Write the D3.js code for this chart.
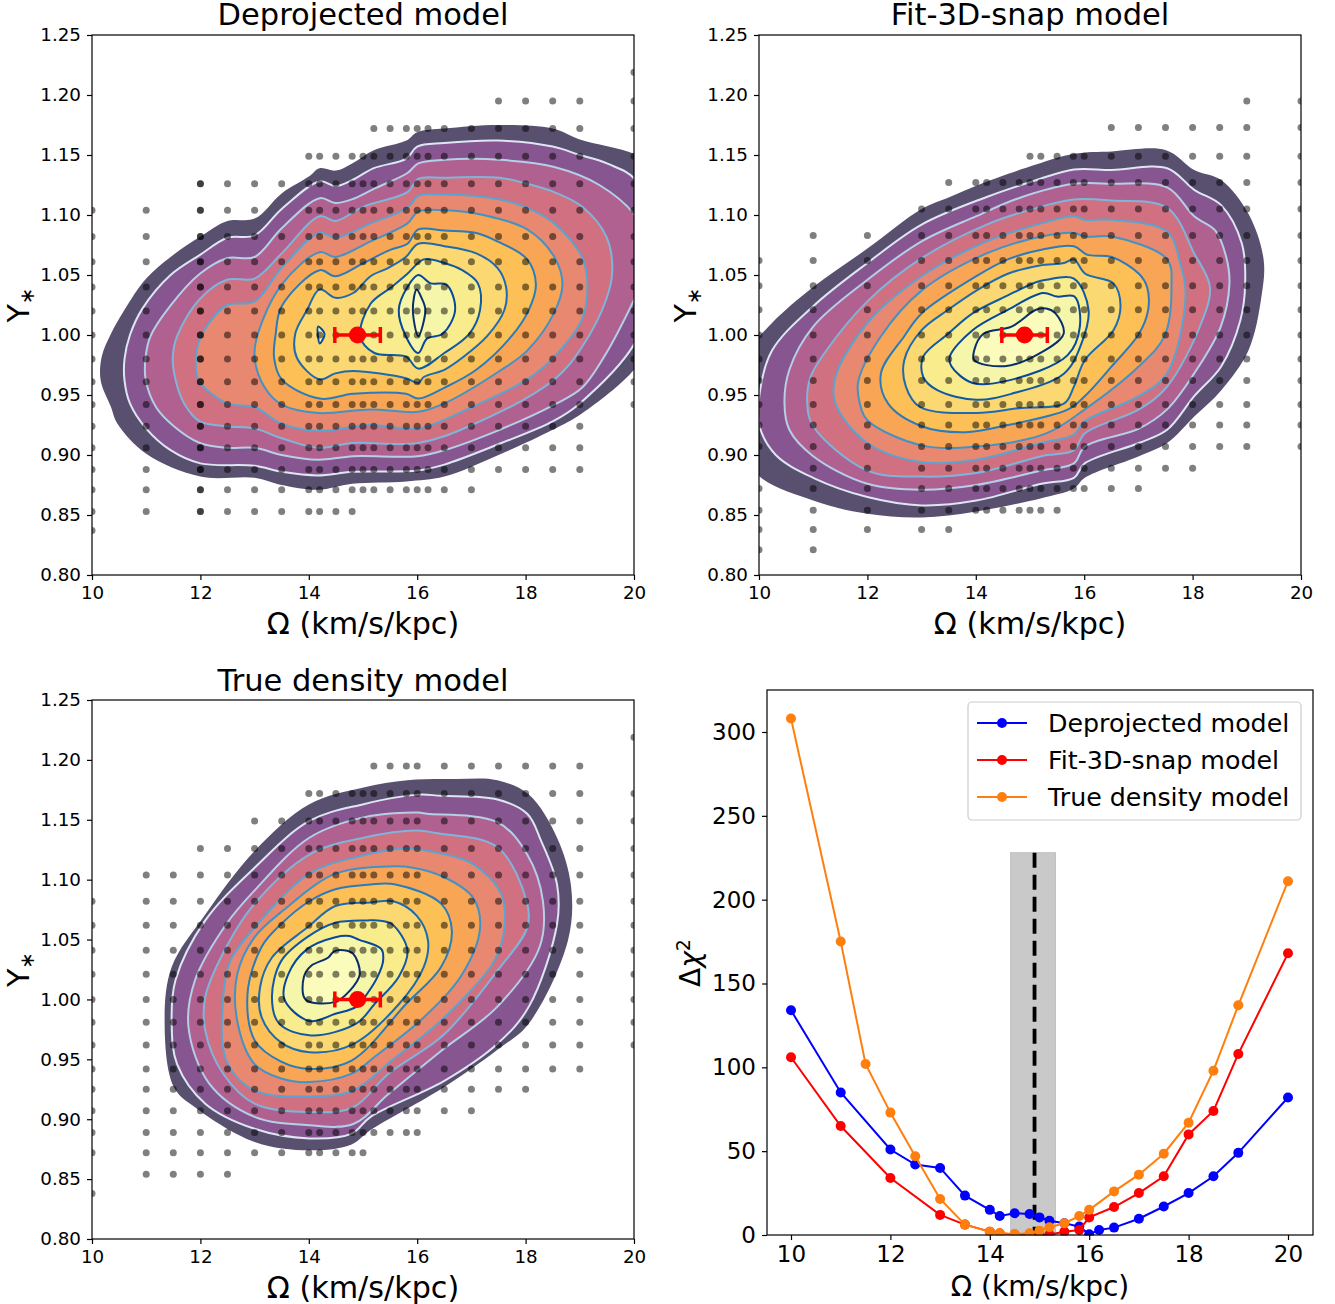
<!DOCTYPE html>
<html><head><meta charset="utf-8">
<style>html,body{margin:0;padding:0;background:#fff}svg{display:block}text{font-family:"DejaVu Sans",sans-serif;fill:#000}</style>
<script src="https://cdnjs.cloudflare.com/ajax/libs/d3/7.8.5/d3.min.js"></script>
</head><body><div id="c"></div>
<script>
const titles=["Deprojected model","Fit-3D-snap model","True density model"];
const xLabel="Ω (km/s/kpc)";
const yTicks=[0.80,0.85,0.90,0.95,1.00,1.05,1.10,1.15,1.20,1.25];
const xTicks=[10,12,14,16,18,20];
const bestOmega=14.9,bestErr=0.42,bestY=1.0;
const bandFills=["#58506e","#87558f","#b06190","#d07080","#e88870","#f8a656","#fcc057","#fbd872","#f8ec8c","#f6f6aa","#fbfbbc"];
const lineColors=[null,"#dde6f3","#b5cfe6","#7fb5da","#5ba3d0","#4292c6","#2b7bba","#1c6bb0","#0f5aa3","#08479a","#08306b"];

const gridDP=[10,11,12,12,12.5,13,13.5,14,14.2,14.5,14.8,15,15.2,15.5,15.8,16,16.2,16.5,17,17.5,18,18.5,19,20];
const gridSF=[10,11,12,13,13.5,14,14.2,14.5,14.8,15,15.2,15.5,15.8,16,16.5,17,17.5,18,18.5,19,20];
const gridTD=[10,11,11.5,12,12.5,13,13.5,14,14.2,14.5,14.8,15,15.2,15.5,15.8,16,16.5,17,17.5,18,18.5,19,20];
// rows: [Y, first omega, last omega, omegas absent]
const rowsDP=[[1.219,20,20],[1.195,17.5,20],[1.172,15.2,20],[1.149,14,20],[1.126,12,20],[1.104,10,20,[13.5]],[1.082,10,20],[1.061,10,20],[1.04,10,20],[1.02,10,20],[1.0,10,20],[0.98,10,20],[0.961,10,20],[0.942,10,20],[0.924,10,19],[0.906,10,19],[0.888,10,19],[0.871,10,17],[0.853,10,14.8],[0.837,10,10]];
const rowsSF=[[1.195,19,20],[1.173,16.5,20],[1.149,15,20],[1.127,13.5,20],[1.105,13,20],[1.083,11,20],[1.062,10,20],[1.041,10,20],[1.021,10,20],[1.0,10,20],[0.98,10,20],[0.962,10,20],[0.942,10,20],[0.925,10,20],[0.907,10,20],[0.889,11,18],[0.872,10,17],[0.854,10,15.5],[0.838,10,13.5],[0.821,10,11]];
const rowsTD=[[1.219,20,20],[1.195,15.2,19],[1.172,14,20],[1.149,13,20],[1.126,12,20],[1.104,11,20],[1.082,10,20],[1.062,10,20],[1.041,10,20],[1.021,10,20],[1.0,10,20],[0.981,10,20],[0.962,10,20],[0.942,10,19],[0.925,10,18],[0.907,10,17],[0.889,10,16],[0.872,10,15],[0.854,11,12.5],[0.838,10,10]];

// Contours as [Omega, Y] vertices, outermost first.
const dp0=[[17.5,1.175],[16.5,1.172],[16,1.169],[15.8,1.162],[15.2,1.154],[14.8,1.143],[14.5,1.137],[14.2,1.139],[14,1.132],[13.5,1.118],[13,1.097],[12.5,1.095],[12,1.082],[11.45,1.065],[11,1.047],[10.6,1.021],[10.35,1.001],[10.18,0.982],[10.16,0.962],[10.35,0.94],[10.47,0.926],[11,0.901],[12,0.882],[13,0.881],[13.5,0.875],[14.17,0.871],[14.8,0.876],[15.8,0.878],[16.5,0.882],[17.5,0.9],[18.5,0.921],[19.05,0.935],[20.05,0.974],[20.3,1.0],[20.3,1.14],[20.05,1.15],[19,1.163],[18.5,1.172]];
const dp1=[[17.5,1.162],[16.5,1.16],[16,1.157],[15.8,1.147],[15.2,1.139],[14.8,1.129],[14.5,1.124],[14.2,1.128],[13.5,1.105],[13,1.083],[12.5,1.081],[12,1.067],[11.45,1.05],[10.93,1.022],[10.7,1],[10.6,0.98],[10.6,0.962],[10.7,0.943],[11,0.922],[11.45,0.904],[12,0.893],[13,0.891],[13.5,0.886],[14.17,0.883],[14.8,0.886],[16,0.887],[16.5,0.892],[17.5,0.909],[18.5,0.928],[19,0.943],[20.05,0.996],[20.4,1.06],[20.05,1.128],[19.5,1.143],[19,1.15],[18.5,1.157]];
const dp2=[[16.02,1.143],[16.5,1.146],[17.52,1.146],[18.53,1.14],[19.36,1.125],[20.03,1.099],[20.34,1.063],[20.03,1.032],[19.49,0.985],[19.04,0.956],[18.53,0.942],[17.52,0.921],[16.5,0.904],[16.01,0.899],[14.82,0.899],[14.17,0.896],[13.5,0.9],[13,0.906],[12.49,0.906],[11.99,0.91],[11.51,0.924],[11.18,0.94],[10.99,0.963],[10.99,0.982],[11.08,0.999],[11.44,1.024],[11.99,1.051],[12.49,1.064],[13,1.065],[13.5,1.089],[14.2,1.114],[14.49,1.11],[14.79,1.113],[15.21,1.122],[15.82,1.135]];
const dp3=[[16.02,1.13],[16.5,1.131],[17.52,1.131],[18.03,1.126],[18.53,1.119],[19.04,1.107],[19.49,1.082],[19.6,1.054],[19.49,1.03],[19.04,0.99],[18.53,0.963],[17.01,0.925],[16.02,0.91],[14.82,0.91],[14.17,0.906],[13.5,0.914],[13,0.922],[12.49,0.924],[11.99,0.928],[11.7,0.943],[11.54,0.963],[11.49,0.981],[11.57,0.999],[11.99,1.03],[12.49,1.046],[13,1.047],[13.5,1.068],[14.2,1.099],[14.49,1.095],[15.01,1.107],[15.82,1.119]];
const dp4=[[16.02,1.116],[16.5,1.117],[17.52,1.113],[18.03,1.106],[18.53,1.093],[19.04,1.065],[19.14,1.042],[19.04,1.013],[18.53,0.982],[18.03,0.963],[17.01,0.94],[16.02,0.922],[15.14,0.925],[14.17,0.92],[13.5,0.926],[13,0.94],[12.49,0.943],[11.96,0.963],[11.92,0.981],[11.96,0.993],[12.16,1.01],[12.49,1.025],[13,1.028],[13.5,1.056],[14.2,1.085],[14.49,1.081],[15.14,1.093],[15.82,1.106]];
const dp5=[[16.02,1.103],[16.5,1.104],[17.22,1.1],[18.03,1.088],[18.53,1.065],[18.68,1.042],[18.52,1.018],[18.03,0.987],[17.52,0.97],[16.5,0.943],[16.02,0.936],[15.14,0.938],[14.17,0.935],[13.5,0.942],[13.19,0.956],[13,0.981],[13.06,1.001],[13.5,1.042],[14.2,1.069],[14.49,1.065],[15.14,1.078],[15.82,1.093]];
const dp6=[[16.02,1.088],[16.5,1.087],[17.09,1.085],[17.48,1.078],[18.03,1.063],[18.19,1.042],[18.06,1.021],[17.74,0.999],[17.09,0.971],[16.5,0.956],[16.02,0.947],[15.79,0.951],[14.82,0.951],[14.2,0.947],[13.5,0.963],[13.36,0.981],[13.39,1.001],[13.5,1.024],[14.2,1.054],[14.49,1.049],[15.01,1.06],[15.5,1.071],[15.82,1.076]];
const dp7=[[16.02,1.076],[16.5,1.074],[17.09,1.068],[17.48,1.056],[17.64,1.04],[17.61,1.021],[17.29,0.999],[16.83,0.981],[16.5,0.971],[16.12,0.965],[16.02,0.96],[15.79,0.964],[14.82,0.97],[14.49,0.968],[14.2,0.963],[13.78,0.981],[13.75,1.001],[13.97,1.021],[14.2,1.038],[14.49,1.031],[14.82,1.035],[15.14,1.049],[15.47,1.056],[15.79,1.065]];
const dp8=[[16.12,1.063],[16.5,1.06],[16.83,1.054],[17.12,1.043],[17.16,1.021],[16.96,1.001],[16.5,0.985],[16.02,0.972],[15.79,0.982],[15.21,0.985],[14.95,0.999],[15.14,1.026],[15.53,1.04],[15.82,1.051]];
const dp9=[[16.02,1.05],[16.25,1.043],[16.54,1.042],[16.7,1.021],[16.47,1.001],[16.18,0.997],[16.02,0.985],[15.79,0.999],[15.66,1.021],[15.82,1.04]];
const dp10=[[15.99,1.038],[15.92,1.021],[16.02,0.999],[16.15,1.021],[16.08,1.031]];
const dpSmall=[[14.17,1.007],[14.17,0.999],[14.2,0.993],[14.29,1.001]];

const sf0=[[17.51,1.154],[16.51,1.153],[15.81,1.151],[15.11,1.142],[14.1,1.126],[13.52,1.115],[13,1.105],[12,1.072],[11,1.04],[10.24,1.01],[9.85,0.988],[9.53,0.938],[9.92,0.886],[11,0.862],[12,0.851],[13,0.848],[14.01,0.853],[15.21,0.864],[15.81,0.872],[16.01,0.881],[17.01,0.899],[17.53,0.91],[18.03,0.932],[18.53,0.954],[19.03,0.987],[19.27,1.032],[19.31,1.063],[19.03,1.101],[18.53,1.129],[18.03,1.1375]];
const sf1=[[17.53,1.139],[16.51,1.1375],[15.81,1.138],[15.11,1.129],[14.2,1.115],[13,1.092],[12,1.06],[11,1.024],[10.24,0.987],[10.01,0.951],[10.01,0.924],[10.31,0.9],[11,0.881],[12,0.865],[13,0.858],[14.01,0.862],[15.21,0.876],[15.81,0.881],[16.01,0.893],[17.01,0.91],[17.53,0.921],[18.03,0.949],[18.53,0.974],[18.88,1.012],[18.97,1.043],[18.91,1.076],[18.53,1.108],[18.03,1.121]];
const sf2=[[17.53,1.123],[16.51,1.126],[15.81,1.126],[14.79,1.114],[14.01,1.099],[13,1.078],[12,1.046],[11,1.007],[10.56,0.971],[10.47,0.943],[10.56,0.921],[11,0.899],[12,0.876],[13,0.871],[14.01,0.875],[15.21,0.887],[15.81,0.893],[16.01,0.907],[17.01,0.922],[17.53,0.938],[18.03,0.968],[18.52,1.007],[18.68,1.043],[18.62,1.065],[18.42,1.087],[18.03,1.099]];
const sf3=[[17.53,1.106],[16.51,1.112],[15.81,1.113],[15.21,1.107],[14.2,1.092],[13,1.064],[12,1.028],[11.21,0.985],[10.95,0.965],[10.89,0.943],[11,0.924],[12,0.887],[13,0.882],[14.01,0.885],[15.21,0.899],[15.81,0.904],[16.01,0.918],[17.01,0.938],[17.53,0.957],[18.16,1.01],[18.32,1.04],[18.03,1.068]];
const sf4=[[17.53,1.086],[16.51,1.096],[16.01,1.096],[15.81,1.099],[15.21,1.093],[14.2,1.078],[13,1.049],[12,1.01],[11.41,0.965],[11.41,0.943],[12,0.91],[13,0.894],[14.01,0.896],[15.21,0.91],[15.81,0.917],[16.01,0.928],[17.01,0.949],[17.53,0.968],[17.87,1.032],[17.77,1.06]];
const sf5=[[17.53,1.063],[16.51,1.082],[16.02,1.082],[15.81,1.085],[15.21,1.082],[14.2,1.068],[13,1.037],[12.25,0.999],[11.83,0.961],[11.86,0.943],[12,0.929],[13,0.908],[14.01,0.907],[15.3,0.918],[16.01,0.938],[17.01,0.974],[17.48,0.999],[17.61,1.04]];
const sf6=[[16.05,1.067],[16.51,1.065],[17.01,1.051],[17.16,1.04],[17.18,1.021],[17.01,1.001],[16.51,0.974],[16.01,0.949],[15.7,0.938],[14.59,0.925],[13.81,0.919],[13,0.924],[12.38,0.943],[12.25,0.968],[12.68,0.999],[13,1.018],[14.01,1.049],[14.59,1.063],[15.21,1.071],[15.81,1.074]];
const sf7=[[15.81,1.063],[16.02,1.051],[16.54,1.043],[16.67,1.024],[16.54,1.004],[16.01,0.979],[15.81,0.957],[15.63,0.943],[14.79,0.939],[14.01,0.935],[12.97,0.94],[12.71,0.957],[12.68,0.979],[13,1.004],[13.49,1.021],[14.01,1.037],[14.59,1.051],[15.18,1.058],[15.63,1.06]];
const sf8=[[15.3,1.046],[15.81,1.047],[16.08,1.021],[15.95,0.993],[15.63,0.968],[14.66,0.951],[14.01,0.946],[13.29,0.954],[13.03,0.965],[13.03,0.982],[13.49,1.001],[13.94,1.018],[14.59,1.033],[15.11,1.044]];
const sf9=[[15.5,1.032],[15.82,1.032],[15.92,1.007],[15.69,0.983],[14.59,0.962],[13.94,0.96],[13.55,0.974],[13.52,0.982],[13.94,1.004],[14.59,1.021],[15.24,1.035]];
const sf10=[[15.3,1.022],[15.47,1.018],[15.62,1.001],[15.11,0.983],[14.53,0.974],[13.97,0.979],[13.97,0.987],[14.14,1.001],[14.66,1.007],[15.11,1.021]];

const td0=[[16.7,1.184],[17.48,1.183],[18.06,1.171],[18.58,1.135],[18.84,1.094],[18.78,1.049],[18.06,0.98],[17.48,0.958],[16.5,0.927],[15.14,0.891],[14.79,0.879],[14.01,0.874],[13,0.881],[11.9,0.91],[11.51,0.927],[11.34,0.98],[11.47,1.027],[12.09,1.071],[13,1.124],[14.01,1.163],[15.01,1.177],[15.82,1.183]];
const td1=[[16.44,1.17],[17.48,1.167],[18.03,1.155],[18.29,1.132],[18.58,1.096],[18.58,1.063],[18.06,0.994],[17.48,0.963],[16.5,0.932],[15.14,0.902],[14.79,0.888],[14.01,0.884],[13,0.892],[12.09,0.913],[11.57,0.946],[11.47,0.98],[11.54,1.016],[12.09,1.066],[13,1.11],[14.01,1.149],[15.01,1.163],[16.02,1.171]];
const td2=[[16.18,1.155],[17.48,1.148],[18.03,1.121],[18.32,1.082],[18.26,1.044],[17.48,0.994],[16.44,0.957],[15.47,0.921],[14.82,0.896],[14.01,0.895],[13,0.902],[12.16,0.93],[11.78,0.977],[11.9,1.016],[12.48,1.063],[13,1.091],[14.01,1.135],[15.01,1.152],[16.02,1.156]];
const td3=[[16.34,1.139],[17.48,1.127],[18.03,1.08],[18.03,1.06],[17.48,1.024],[16.5,0.971],[15.47,0.938],[14.82,0.91],[14.01,0.906],[13,0.913],[12.42,0.938],[12.09,0.974],[12.09,1.002],[12.48,1.044],[13,1.08],[14.01,1.121],[15.01,1.135],[15.99,1.141]];
const td4=[[16.21,1.124],[17.03,1.113],[17.55,1.088],[17.61,1.06],[17.42,1.032],[16.5,0.985],[15.53,0.949],[14.82,0.924],[14.01,0.919],[13,0.924],[12.48,0.949],[12.42,1.002],[12.55,1.032],[13,1.06],[14.01,1.105],[14.88,1.119],[15.79,1.126]];
const td5=[[15.92,1.11],[16.5,1.102],[17.03,1.085],[17.16,1.06],[16.83,1.021],[16.12,0.985],[15.21,0.952],[14.79,0.938],[14.01,0.931],[13.49,0.934],[13,0.946],[12.68,0.982],[12.68,1.021],[13,1.052],[13.52,1.074],[14.49,1.105],[15.47,1.111]];
const td6=[[15.6,1.096],[16.44,1.08],[16.64,1.057],[16.44,1.027],[15.79,0.996],[14.79,0.949],[14.01,0.942],[13.49,0.948],[13,0.966],[12.87,1.005],[13.13,1.044],[13.49,1.063],[14.01,1.082],[14.49,1.092],[15.14,1.096]];
const td7=[[15.56,1.082],[15.99,1.07],[16.2,1.049],[16.12,1.027],[15.66,0.996],[14.79,0.962],[14.01,0.956],[13.49,0.964],[13.13,0.985],[13.1,1.01],[13.32,1.035],[13.97,1.06],[14.49,1.078],[15.14,1.081]];
const td8=[[15.53,1.063],[15.82,1.041],[15.66,1.019],[15.21,0.996],[14.88,0.98],[14.04,0.97],[13.45,0.98],[13.32,1.002],[13.49,1.032],[13.97,1.052],[14.49,1.064],[15.08,1.066],[15.27,1.066]];
const td9=[[14.92,1.05],[15.34,1.042],[15.37,1.032],[15.27,1.019],[15.08,1.005],[14.88,0.994],[14.49,0.988],[14.01,0.982],[13.55,1],[13.62,1.021],[13.97,1.042],[14.49,1.052],[14.75,1.053]];
const td10=[[14.82,1.038],[14.94,1.021],[14.75,1.007],[14.49,0.998],[13.94,1],[13.91,1.019],[14.04,1.028],[14.36,1.035],[14.46,1.04],[14.65,1.041]];

// Delta chi^2 panel
const omegaDP=[10,11,12,12.5,13,13.5,14,14.2,14.5,14.8,15,15.2,15.5,15.8,16,16.2,16.5,17,17.5,18,18.5,19,20];
const chiDP=[134,85,51,42,40,23.5,15,11.3,13,12.5,10.5,8.5,7,5,0.5,3,4.4,9.7,17,25,35,49,82];
const omegaSF=[10,11,12,13,13.5,14,14.2,14.5,14.8,15,15.2,15.5,15.8,16,16.5,17,17.5,18,18.5,19,20];
const chiSF=[106,65,34,12,6.2,2,1,0.3,0,0,0.3,2,3,10.5,16.7,25,35,60,74,108,168];
const omegaTD=[10,11,11.5,12,12.5,13,13.5,14,14.2,14.5,14.8,15,15.2,15.5,15.8,16,16.5,17,17.5,18,18.5,19,20];
const chiTD=[308,175,102,73,47,21.5,6.2,2,1,0.6,1,2.6,4.6,7,11.3,15,26,36,48.5,67,98,137,211];
const chiTicks=[0,50,100,150,200,250,300];
const spanOmega=[14.42,15.32],spanTop=228;
const seriesColors=["#0000ff","#ff0000","#ff7f0e"];

const W=1335,H=1304;
const svg=d3.select("#c").append("svg").attr("width",W).attr("height",H);
const line=d3.line();

function panel(i,box,grid,rows,contours,small,titleY,labelY){
  const x=d3.scaleLinear().domain([10,20]).range([box.l,box.r]);
  const y=d3.scaleLinear().domain([0.8,1.25]).range([box.b,box.t]);
  const id="clip"+i;
  svg.append("clipPath").attr("id",id).append("rect").attr("x",box.l).attr("y",box.t).attr("width",box.r-box.l).attr("height",box.b-box.t);
  const g=svg.append("g").attr("clip-path",`url(#${id})`);
  const path=c=>line.curve(d3.curveCatmullRomClosed.alpha(0.5)).x(d=>x(d[0])).y(d=>y(d[1]))(c);
  g.selectAll("path.f").data(contours).enter().append("path").attr("class","f").attr("d",path).attr("fill",(d,k)=>bandFills[k]);
  if(small) g.append("path").attr("d",path(small)).attr("fill",bandFills[9]);
  g.selectAll("path.l").data(contours.slice(1)).enter().append("path").attr("class","l").attr("d",path).attr("fill","none").attr("stroke",(d,k)=>lineColors[k+1]).attr("stroke-width",2).attr("stroke-linejoin","round");
  if(small) g.append("path").attr("d",path(small)).attr("fill","none").attr("stroke",lineColors[9]).attr("stroke-width",2);
  const pts=[];
  rows.forEach(r=>grid.forEach(o=>{ if(o>=r[1]&&o<=r[2]&&!(r[3]&&r[3].includes(o))) pts.push([o,r[0]]); }));
  g.selectAll("circle").data(pts).enter().append("circle").attr("cx",d=>x(d[0])).attr("cy",d=>y(d[1])).attr("r",3.5).attr("fill","#000").attr("fill-opacity",0.5);
  // best-fit marker
  const m=svg.append("g").attr("stroke","#ff0000").attr("stroke-width",3.5);
  m.append("line").attr("x1",x(bestOmega-bestErr)).attr("x2",x(bestOmega+bestErr)).attr("y1",y(bestY)).attr("y2",y(bestY));
  [bestOmega-bestErr,bestOmega+bestErr].forEach(v=>m.append("line").attr("x1",x(v)).attr("x2",x(v)).attr("y1",y(bestY)-8).attr("y2",y(bestY)+8));
  svg.append("circle").attr("cx",x(bestOmega)).attr("cy",y(bestY)).attr("r",8.5).attr("fill","#ff0000");
  // axes
  styleAxis(svg.append("g").attr("transform",`translate(0,${box.b})`).call(d3.axisBottom(x).tickValues(xTicks).tickFormat(d3.format("d")).tickSize(5).tickPadding(6)),18.3);
  styleAxis(svg.append("g").attr("transform",`translate(${box.l},0)`).call(d3.axisLeft(y).tickValues(yTicks).tickFormat(d3.format(".2f")).tickSize(5).tickPadding(6)),18.3);
  frame(box);
  svg.append("text").attr("x",(box.l+box.r)/2).attr("y",titleY).attr("text-anchor","middle").style("font-size","30.5px").text(titles[i]);
  svg.append("text").attr("x",(box.l+box.r)/2).attr("y",labelY).attr("text-anchor","middle").style("font-size","30.2px").text(xLabel);
  const yl=svg.append("text").attr("transform",`translate(${box.l-63},${(box.t+box.b)/2}) rotate(-90)`).attr("text-anchor","middle").style("font-size","30px");
  yl.append("tspan").text("Υ");
  yl.append("tspan").attr("dy",5).style("font-size","20px").text("∗");
}
function styleAxis(a,fs){
  a.select(".domain").remove();
  a.selectAll(".tick line").attr("stroke","#000").attr("stroke-width",1.2);
  a.selectAll(".tick text").style("font-size",fs+"px").attr("fill","#000");
}
function frame(b){
  svg.append("rect").attr("x",b.l).attr("y",b.t).attr("width",b.r-b.l).attr("height",b.b-b.t).attr("fill","none").attr("stroke","#000").attr("stroke-width",1.2);
}

panel(0,{l:92,r:634,t:35,b:575},gridDP,rowsDP,[dp0,dp1,dp2,dp3,dp4,dp5,dp6,dp7,dp8,dp9,dp10],dpSmall,25,634);
panel(1,{l:759,r:1301,t:35,b:575},gridSF,rowsSF,[sf0,sf1,sf2,sf3,sf4,sf5,sf6,sf7,sf8,sf9,sf10],null,25,634);
panel(2,{l:92,r:634,t:700,b:1239},gridTD,rowsTD,[td0,td1,td2,td3,td4,td5,td6,td7,td8,td9,td10],null,691,1298);

// chi^2 panel
const b4={l:767,r:1313,t:690,b:1235};
const x4=d3.scaleLinear().domain([10,20]).range([791,1288]);
const y4=d3.scaleLinear().domain([0,300]).range([1235,732]);
svg.append("rect").attr("x",x4(spanOmega[0])).attr("width",x4(spanOmega[1])-x4(spanOmega[0])).attr("y",y4(spanTop)).attr("height",y4(0)-y4(spanTop)).attr("fill","#c9c9c9").attr("stroke","#bdbdbd").attr("stroke-width",1);
svg.append("line").attr("x1",x4(bestOmega)).attr("x2",x4(bestOmega)).attr("y1",y4(spanTop)).attr("y2",y4(0)).attr("stroke","#000").attr("stroke-width",3.8).attr("stroke-dasharray","15,7");
const l4=d3.line().curve(d3.curveLinear).x(d=>x4(d[0])).y(d=>y4(d[1]));
[[omegaDP,chiDP],[omegaSF,chiSF],[omegaTD,chiTD]].forEach((s,i)=>{
  const d=s[0].map((o,k)=>[o,s[1][k]]);
  const g=svg.append("g");
  g.append("path").attr("d",l4(d)).attr("fill","none").attr("stroke",seriesColors[i]).attr("stroke-width",2);
  g.selectAll("circle").data(d).enter().append("circle").attr("cx",v=>x4(v[0])).attr("cy",v=>y4(v[1])).attr("r",5).attr("fill",seriesColors[i]);
});
svg.append("rect").attr("x",767).attr("y",1235.5).attr("width",546).attr("height",8).attr("fill","#fff");
styleAxis(svg.append("g").attr("transform",`translate(0,${b4.b})`).call(d3.axisBottom(x4).tickValues(xTicks).tickFormat(d3.format("d")).tickSize(5).tickPadding(6)),23);
styleAxis(svg.append("g").attr("transform",`translate(${b4.l},0)`).call(d3.axisLeft(y4).tickValues(chiTicks).tickFormat(d3.format("d")).tickSize(5).tickPadding(6)),23);
frame(b4);
svg.append("text").attr("x",1040).attr("y",1296).attr("text-anchor","middle").style("font-size","28px").text(xLabel);
const cl=svg.append("text").attr("transform","translate(700,963) rotate(-90)").attr("text-anchor","middle").style("font-size","28px");
cl.append("tspan").text("Δ");
cl.append("tspan").style("font-style","italic").text("χ");
cl.append("tspan").attr("dy",-10).style("font-size","19px").text("2");
// legend
const lg=svg.append("g");
lg.append("rect").attr("x",968).attr("y",702).attr("width",333).attr("height",118).attr("rx",4).attr("fill","#fff").attr("fill-opacity",0.8).attr("stroke","#ccc").attr("stroke-width",1.2);
titles.forEach((t,i)=>{
  const ly=723+i*37;
  lg.append("line").attr("x1",977).attr("x2",1027).attr("y1",ly).attr("y2",ly).attr("stroke",seriesColors[i]).attr("stroke-width",2);
  lg.append("circle").attr("cx",1002).attr("cy",ly).attr("r",5).attr("fill",seriesColors[i]);
  lg.append("text").attr("x",1048).attr("y",ly+9).style("font-size","25.3px").text(t);
});
</script></body></html>
